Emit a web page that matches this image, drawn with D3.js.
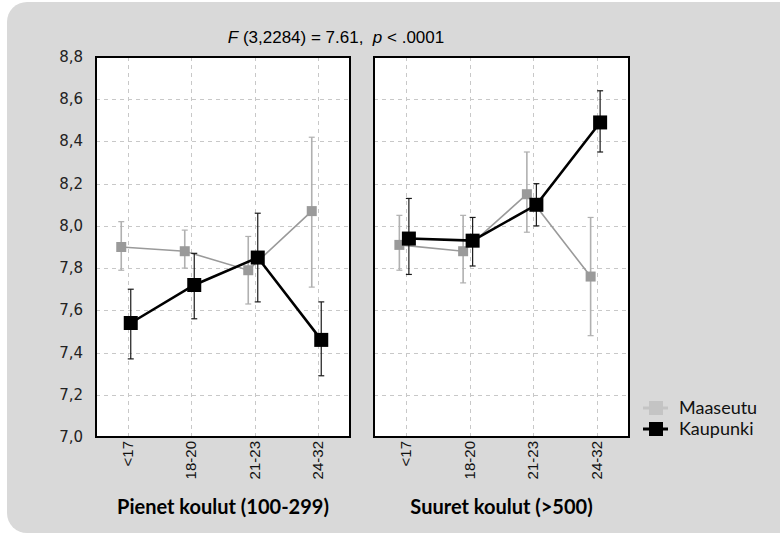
<!DOCTYPE html>
<html>
<head>
<meta charset="utf-8">
<script src="https://cdn.jsdelivr.net/npm/d3@7"></script>
<style>
  html, body { margin: 0; padding: 0; background: #fff; }
  svg { display: block; }
</style>
</head>
<body>
<svg id="chart" width="780" height="535"></svg>
<script>
// Age groups on each panel's x axis
const ageGroups = ["<17", "18-20", "21-23", "24-32"];
// Panel (school size) titles
const panels = ["Pienet koulut (100-299)", "Suuret koulut (>500)"];
// Series names
const seriesNames = ["Maaseutu", "Kaupunki"];

// Means and confidence limits, small schools
const smallRuralMean = [7.90, 7.88, 7.79, 8.07];
const smallRuralLow  = [7.79, 7.80, 7.63, 7.71];
const smallRuralHigh = [8.02, 7.98, 7.95, 8.42];
const smallUrbanMean = [7.54, 7.72, 7.85, 7.46];
const smallUrbanLow  = [7.37, 7.56, 7.64, 7.29];
const smallUrbanHigh = [7.70, 7.87, 8.06, 7.64];

// Means and confidence limits, large schools
const largeRuralMean = [7.91, 7.88, 8.15, 7.76];
const largeRuralLow  = [7.79, 7.73, 7.97, 7.48];
const largeRuralHigh = [8.05, 8.05, 8.35, 8.04];
const largeUrbanMean = [7.94, 7.93, 8.10, 8.49];
const largeUrbanLow  = [7.77, 7.81, 8.00, 8.35];
const largeUrbanHigh = [8.13, 8.04, 8.20, 8.64];

// Y axis ticks
const yTicks = [7.0, 7.2, 7.4, 7.6, 7.8, 8.0, 8.2, 8.4, 8.6, 8.8];

const svg = d3.select("#chart");

// Grey rounded backdrop
svg.append("rect")
  .attr("x", 7).attr("y", 2)
  .attr("width", 800).attr("height", 531)
  .attr("rx", 20).attr("ry", 20)
  .attr("fill", "#d9d9d9");

const plotTop = 57, plotBottom = 437;
const y = d3.scaleLinear().domain([7.0, 8.8]).range([plotBottom, plotTop]);

const panelX = [[96, 350], [374, 629]];
const panelData = [
  [
    { mean: smallRuralMean, low: smallRuralLow, high: smallRuralHigh },
    { mean: smallUrbanMean, low: smallUrbanLow, high: smallUrbanHigh }
  ],
  [
    { mean: largeRuralMean, low: largeRuralLow, high: largeRuralHigh },
    { mean: largeUrbanMean, low: largeUrbanLow, high: largeUrbanHigh }
  ]
];

const styles = [
  { line: "#9a9a9a", lineWidth: 1.6, marker: "#9a9a9a", size: 10, err: "#b0b0b0", offset: -6.5 },
  { line: "#000000", lineWidth: 2.6, marker: "#000000", size: 14, err: "#1a1a1a", offset: 3 }
];

const fmt = v => d3.format(".1f")(v).replace(".", ",");

panelX.forEach((px, pi) => {
  const x = d3.scaleBand().domain(ageGroups).range(px).paddingInner(0).paddingOuter(0);
  const cx = d => x(d) + x.bandwidth() / 2;
  const g = svg.append("g");

  // plot area
  g.append("rect")
    .attr("x", px[0]).attr("y", plotTop)
    .attr("width", px[1] - px[0]).attr("height", plotBottom - plotTop)
    .attr("fill", "#fff");

  // horizontal grid
  g.append("g").selectAll("line")
    .data(yTicks.filter(t => t > 7.0 && t < 8.8))
    .join("line")
    .attr("x1", px[0]).attr("x2", px[1])
    .attr("y1", d => Math.round(y(d)) + 0.5).attr("y2", d => Math.round(y(d)) + 0.5)
    .attr("stroke", "#c8c8c8").attr("stroke-width", 1)
    .attr("stroke-dasharray", "4,4");

  // vertical grid
  g.append("g").selectAll("line")
    .data(ageGroups)
    .join("line")
    .attr("x1", d => Math.round(cx(d)) + 0.5).attr("x2", d => Math.round(cx(d)) + 0.5)
    .attr("y1", plotTop).attr("y2", plotBottom)
    .attr("stroke", "#c8c8c8").attr("stroke-width", 1)
    .attr("stroke-dasharray", "4,4");

  // series
  panelData[pi].forEach((s, si) => {
    const st = styles[si];
    const pts = ageGroups.map((a, i) => ({
      x: cx(a) + st.offset, m: s.mean[i], lo: s.low[i], hi: s.high[i]
    }));
    const sg = g.append("g");

    // error bars
    pts.forEach(p => {
      sg.append("line")
        .attr("x1", p.x).attr("x2", p.x)
        .attr("y1", y(p.lo)).attr("y2", y(p.hi))
        .attr("stroke", st.err).attr("stroke-width", si === 0 ? 1.6 : 1.2);
      [p.lo, p.hi].forEach(v => {
        sg.append("line")
          .attr("x1", p.x - 3).attr("x2", p.x + 3)
          .attr("y1", y(v)).attr("y2", y(v))
          .attr("stroke", st.err).attr("stroke-width", 1.2);
      });
    });

    // connecting line
    sg.append("path")
      .datum(pts)
      .attr("d", d3.line().x(p => p.x).y(p => y(p.m)))
      .attr("fill", "none")
      .attr("stroke", st.line)
      .attr("stroke-width", st.lineWidth);

    // markers
    sg.selectAll("rect.mk")
      .data(pts)
      .join("rect")
      .attr("class", "mk")
      .attr("x", p => p.x - st.size / 2)
      .attr("y", p => y(p.m) - st.size / 2)
      .attr("width", st.size).attr("height", st.size)
      .attr("fill", st.marker);
  });

  // panel frame
  g.append("rect")
    .attr("x", px[0]).attr("y", plotTop)
    .attr("width", px[1] - px[0]).attr("height", plotBottom - plotTop)
    .attr("fill", "none")
    .attr("stroke", "#000").attr("stroke-width", 2);

  // x tick labels (rotated)
  g.append("g").selectAll("text")
    .data(ageGroups)
    .join("text")
    .attr("transform", d => `translate(${cx(d) + 5},${plotBottom + 4}) rotate(-90)`)
    .attr("text-anchor", "end")
    .attr("font-family", "Liberation Sans, Arial, sans-serif")
    .attr("font-size", 15)
    .attr("fill", "#111")
    .text(d => d);

  // panel title
  g.append("text")
    .attr("x", (px[0] + px[1]) / 2)
    .attr("y", 514)
    .attr("text-anchor", "middle")
    .attr("font-family", "Lato, sans-serif")
    .attr("font-weight", "bold")
    .attr("font-size", 20)
    .attr("fill", "#000")
    .text(panels[pi]);
});

// y tick labels
svg.append("g").selectAll("text")
  .data(yTicks)
  .join("text")
  .attr("x", 83)
  .attr("y", d => y(d) + 5)
  .attr("text-anchor", "end")
  .attr("font-family", "DejaVu Sans, Verdana, sans-serif")
  .attr("font-size", 15)
  .attr("fill", "#222")
  .text(fmt);

// statistic header
const title = svg.append("text")
  .attr("x", 336).attr("y", 43)
  .attr("text-anchor", "middle")
  .attr("font-family", "Liberation Sans, Arial, sans-serif")
  .attr("font-size", 17)
  .attr("fill", "#000");
title.append("tspan").attr("font-style", "italic").text("F");
title.append("tspan").text(" (3,2284) = 7.61,\u00a0\u00a0");
title.append("tspan").attr("font-style", "italic").text("p");
title.append("tspan").text(" < .0001");

// legend
const legend = svg.append("g");
const legendStyles = [
  { color: "#c4c4c4", y: 408 },
  { color: "#000000", y: 429 }
];
seriesNames.forEach((name, i) => {
  const ls = legendStyles[i];
  legend.append("line")
    .attr("x1", 643).attr("x2", 668)
    .attr("y1", ls.y).attr("y2", ls.y)
    .attr("stroke", ls.color).attr("stroke-width", 3);
  legend.append("rect")
    .attr("x", 649).attr("y", ls.y - 7)
    .attr("width", 14).attr("height", 14)
    .attr("fill", ls.color);
  legend.append("text")
    .attr("x", 679).attr("y", ls.y + 6)
    .attr("font-family", "Lato, sans-serif")
    .attr("font-size", 18)
    .attr("fill", "#111")
    .text(name);
});
</script>
</body>
</html>
